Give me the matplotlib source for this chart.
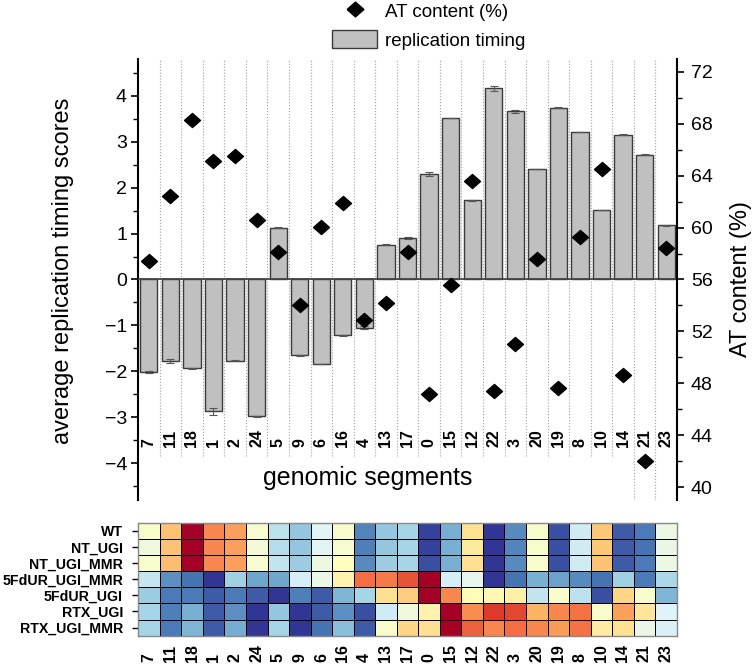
import numpy as np
import matplotlib
matplotlib.use("Agg")
import matplotlib.pyplot as plt
from matplotlib.ticker import MultipleLocator

plt.rcParams["font.family"] = ["Liberation Sans", "DejaVu Sans"]

# genomic segments, ordered by replication timing panel
segments = ["7", "11", "18", "1", "2", "24", "5", "9", "6", "16", "4", "13", "17",
            "0", "15", "12", "22", "3", "20", "19", "8", "10", "14", "21", "23"]

rt_score = [-2.02, -1.78, -1.93, -2.87, -1.77, -2.98, 1.13, -1.65, -1.84, -1.21, -1.05, 0.76, 0.91,
            2.29, 3.51, 1.72, 4.16, 3.66, 2.40, 3.74, 3.22, 1.52, 3.15, 2.72, 1.18]
rt_err = [0.02, 0.04, 0.01, 0.08, 0.01, 0.01, 0.01, 0.01, 0.01, 0.01, 0.03, 0.01, 0.02,
          0.04, 0.0, 0.01, 0.05, 0.04, 0.0, 0.01, 0.0, 0.0, 0.01, 0.02, 0.01]
at_content = [57.4, 62.45, 68.3, 65.1, 65.55, 60.6, 58.1, 54.0, 60.05, 61.9, 52.85, 54.2, 58.15,
              47.15, 55.6, 63.6, 47.4, 51.05, 57.6, 47.6, 59.3, 64.5, 48.65, 42.0, 58.45]

# heatmap rows (relative signal, 0 = low / blue, 1 = high / red)
conditions = ["WT", "NT_UGI", "NT_UGI_MMR", "5FdUR_UGI_MMR", "5FdUR_UGI", "RTX_UGI", "RTX_UGI_MMR"]
wt = [0.48, 0.66, 1.0, 0.76, 0.72, 0.47, 0.33, 0.26, 0.41, 0.48, 0.13, 0.26, 0.29,
      0.02, 0.21, 0.59, 0.0, 0.14, 0.48, 0.04, 0.37, 0.65, 0.06, 0.11, 0.44]
nt_ugi = [0.45, 0.66, 1.0, 0.76, 0.72, 0.46, 0.32, 0.26, 0.41, 0.47, 0.12, 0.26, 0.29,
          0.02, 0.21, 0.57, 0.0, 0.13, 0.48, 0.04, 0.37, 0.65, 0.06, 0.10, 0.43]
nt_ugi_mmr = [0.48, 0.67, 1.0, 0.76, 0.72, 0.47, 0.34, 0.27, 0.44, 0.50, 0.14, 0.27, 0.29,
              0.04, 0.21, 0.60, 0.0, 0.14, 0.48, 0.04, 0.37, 0.66, 0.06, 0.11, 0.44]
fdur_ugi_mmr = [0.35, 0.15, 0.10, 0.0, 0.28, 0.19, 0.19, 0.38, 0.43, 0.54, 0.80, 0.78, 0.84,
                1.0, 0.38, 0.42, 0.0, 0.10, 0.21, 0.18, 0.14, 0.10, 0.28, 0.11, 0.30]
fdur_ugi = [0.27, 0.11, 0.11, 0.06, 0.11, 0.06, 0.0, 0.12, 0.06, 0.22, 0.29, 0.60, 0.64,
            1.0, 0.76, 0.51, 0.52, 0.55, 0.34, 0.48, 0.33, 0.04, 0.62, 0.48, 0.22]
rtx_ugi = [0.29, 0.12, 0.21, 0.06, 0.15, 0.0, 0.26, 0.0, 0.06, 0.15, 0.04, 0.37, 0.45,
           0.54, 1.0, 0.75, 0.88, 0.86, 0.69, 0.76, 0.79, 0.48, 0.72, 0.58, 0.40]
rtx_ugi_mmr = [0.29, 0.11, 0.22, 0.06, 0.20, 0.0, 0.29, 0.0, 0.10, 0.24, 0.06, 0.48, 0.62,
               0.60, 1.0, 0.82, 0.76, 0.80, 0.76, 0.73, 0.79, 0.56, 0.59, 0.43, 0.39]

BAR_FILL = "#c0c0c0"
BAR_EDGE = "#3a3a3a"
GRID = "#a0a0a0"

fig = plt.figure(figsize=(7.53, 6.65), dpi=100)
ax = fig.add_axes([0.1833, 0.2481, 0.7158, 0.6632])
ax2 = ax.twinx()
axh = fig.add_axes([0.1837, 0.0441, 0.7150, 0.1699])

x = np.arange(len(segments))

# --- replication timing bars (left axis)
ax.bar(x, rt_score, width=0.8, color=BAR_FILL, edgecolor=BAR_EDGE, lw=1.0, zorder=2,
       label="replication timing")
ax.errorbar(x, rt_score, yerr=rt_err, fmt="none", ecolor="#555555", elinewidth=0.8,
            capsize=3, capthick=0.8, zorder=3)
ax.axhline(0, color="#444444", lw=1.3, zorder=4)

# dotted separators between segments
for k in range(len(segments) - 1):
    lo = 0.0 if k >= len(segments) - 3 else 0.1
    ax.axvline(k + 0.5, ymin=lo, ymax=1, color=GRID, ls=":", lw=0.8, zorder=1)

ax.set_xlim(-0.5, len(segments) - 0.5)
ax.set_ylim(-4.8, 4.8)
ax.yaxis.set_major_locator(MultipleLocator(1))
ax.yaxis.set_minor_locator(MultipleLocator(0.5))
ax.set_xticks([])
for s in ["top", "bottom", "right"]:
    ax.spines[s].set_visible(False)
ax.spines["left"].set_linewidth(1.5)
ax.tick_params(axis="y", which="major", length=5, width=1.2, labelsize=14, pad=3)
ax.tick_params(axis="y", which="minor", length=3.5, width=1.0)
ax.set_ylabel("average replication timing scores", fontsize=17)
ax.yaxis.set_label_coords(-0.118, 0.52)

for xi, name in zip(x, segments):
    ax.text(xi, -3.64, name, rotation=90, ha="center", va="bottom",
            fontsize=11.5, fontweight="bold", zorder=5)
ax.text(10.15, -4.33, "genomic segments", ha="center", va="center", fontsize=18)

# --- AT content diamonds (right axis)
diamond = [(-1.13, 0), (0, 1), (1.13, 0), (0, -1), (-1.13, 0)]
ax2.plot(x, at_content, ls="none", marker=diamond, ms=11.5, color="black",
         label="AT content (%)", zorder=6)
ax2.set_ylim(39, 73)
ax2.yaxis.set_major_locator(MultipleLocator(4))
ax2.yaxis.set_minor_locator(MultipleLocator(2))
for s in ["top", "bottom", "left"]:
    ax2.spines[s].set_visible(False)
ax2.spines["right"].set_linewidth(1.5)
ax2.tick_params(axis="y", which="major", length=5, width=1.2, labelsize=14, pad=5)
ax2.tick_params(axis="y", which="minor", length=3.5, width=1.0)
ax2.set_ylabel("AT content (%)", fontsize=17, labelpad=12)

h2, l2 = ax2.get_legend_handles_labels()
h1, l1 = ax.get_legend_handles_labels()
fig.legend(h2 + h1, l2 + l1, loc="upper left", bbox_to_anchor=(0.426, 1.0145),
           frameon=False, fontsize=13.5, handlelength=2.4, handleheight=1.15,
           handletextpad=0.4, labelspacing=0.46, markerscale=1.05, borderpad=0.1)

# --- heatmap
heat = np.array([wt, nt_ugi, nt_ugi_mmr, fdur_ugi_mmr, fdur_ugi, rtx_ugi, rtx_ugi_mmr])
axh.pcolormesh(heat, cmap="RdYlBu_r", vmin=0, vmax=1, edgecolors="black", linewidth=0.7)
axh.set_xlim(0, len(segments))
axh.set_ylim(len(conditions), 0)
axh.set_yticks(np.arange(len(conditions)) + 0.5)
axh.set_yticklabels(conditions, fontsize=10.2, fontweight="bold")
axh.set_xticks(x + 0.5)
axh.set_xticklabels(segments, rotation=90, fontsize=11.5, fontweight="bold")
for lab in axh.get_xticklabels():
    lab.set_va("bottom")
axh.tick_params(axis="x", length=0, pad=19)
axh.tick_params(axis="y", length=4, width=1.0, pad=7)
for s in axh.spines.values():
    s.set_edgecolor("#888888")
    s.set_linewidth(1.0)

fig.savefig("out.png", dpi=100)
